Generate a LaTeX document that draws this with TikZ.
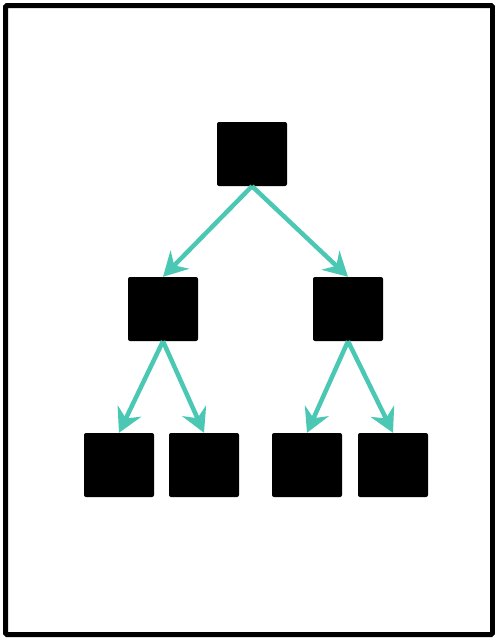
\documentclass[tikz,border=0pt]{standalone}
\usetikzlibrary{arrows.meta}
\definecolor{teal1}{HTML}{4BC8B3}
\begin{document}
\begin{tikzpicture}[x=1pt,y=-1pt,
  box/.style={fill=black,draw=none,rounded corners=2pt,minimum width=70pt,minimum height=64pt,inner sep=0pt},
  edge/.style={draw=teal1,line width=4.5pt,-{Stealth[length=24pt,width=26pt,inset=8pt]}}]
\useasboundingbox (0,0) rectangle (495,638);
\draw[line width=5pt,rounded corners=1.5pt] (5.5,5.5) rectangle (492.5,634.5);
\node[box] (r) at (252,154) {};
\node[box] (a) at (163,309) {};
\node[box] (b) at (348,309) {};
\node[box] (a1) at (119,465) {};
\node[box] (a2) at (204,465) {};
\node[box] (b1) at (307,465) {};
\node[box] (b2) at (393,465) {};
\draw[edge] (r.south) -- (a.north);
\draw[edge] (r.south) -- (b.north);
\draw[edge] (a.south) -- (a1.north);
\draw[edge] (a.south) -- (a2.north);
\draw[edge] (b.south) -- (b1.north);
\draw[edge] (b.south) -- (b2.north);
\end{tikzpicture}
\end{document}
